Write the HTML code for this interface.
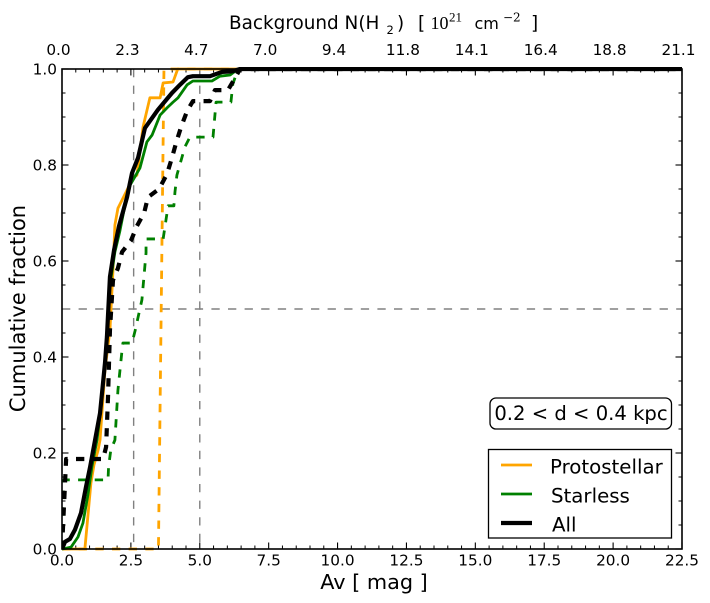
<!DOCTYPE html>
<html lang="en">
<head>
<meta charset="utf-8">
<title>Cumulative fraction vs Av</title>
<style>
html,body{margin:0;padding:0;background:#fff;width:710px;height:603px;overflow:hidden}
svg{display:block}
text{font-family:"DejaVu Sans","Liberation Sans",sans-serif;fill:#000}
</style>
</head>
<body>
<svg id="chart" width="710" height="603" viewBox="0 0 710 603" xmlns="http://www.w3.org/2000/svg">
  <defs><clipPath id="plot-clip"><rect x="62" y="67" width="620" height="484"/></clipPath></defs>
  <rect x="0" y="0" width="710" height="603" fill="#fff"/>
  <g id="ticks"></g>
  <g id="refs" clip-path="url(#plot-clip)"></g>
  <g id="series" clip-path="url(#plot-clip)"></g>
  <rect x="62" y="69" width="620" height="480" fill="none" stroke="#000" stroke-width="1.6"/>
  <g id="labels"></g>
  <text y="29" font-size="18.4"><tspan x="229">Background N(H</tspan><tspan x="386.5" y="34" font-size="11.5">2</tspan><tspan x="397" y="29">)</tspan><tspan x="418" y="29">[</tspan><tspan x="430.5" y="29" font-size="18" style="font-family:'Liberation Serif',serif">10</tspan><tspan x="449" y="21.5" font-size="13" style="font-family:'Liberation Serif',serif">21</tspan><tspan x="474.5" y="29" font-size="16">cm</tspan><tspan x="503" y="21.5" font-size="12" style="font-family:'DejaVu Serif','Liberation Serif',serif">−2</tspan><tspan x="531" y="29">]</tspan></text>
  <text x="374" y="589" font-size="20.8" text-anchor="middle">Av [ mag ]</text>
  <text x="0" y="0" font-size="21" text-anchor="middle" transform="translate(25,308.5) rotate(-90)">Cumulative fraction</text>
  <g>
    <rect x="490" y="398" width="181.5" height="31" rx="6" ry="6" fill="#fff" stroke="#000" stroke-width="1.3"/>
    <text x="581" y="420" font-size="19.6" text-anchor="middle">0.2 &lt; d &lt; 0.4 kpc</text>
  </g>
  <g>
    <rect x="488.5" y="449.5" width="183" height="88.5" fill="#fff" stroke="#000" stroke-width="1.3"/>
    <line x1="501" x2="532" y1="465" y2="465" stroke="#ffa500" stroke-width="2.8"/>
    <text x="550" y="473.5" font-size="19.8">Protostellar</text>
    <line x1="501" x2="532" y1="494" y2="494" stroke="#008000" stroke-width="2.8"/>
    <text x="551" y="502.5" font-size="19.8">Starless</text>
    <line x1="501" x2="532" y1="523" y2="523" stroke="#000" stroke-width="4.2"/>
    <text x="552" y="531.5" font-size="19.8">All</text>
  </g>
</svg>
<script>
var xTicks = [0, 2.5, 5, 7.5, 10, 12.5, 15, 17.5, 20, 22.5];
var xTickLabels = ["0.0", "2.5", "5.0", "7.5", "10.0", "12.5", "15.0", "17.5", "20.0", "22.5"];
var topTickLabels = ["0.0", "2.3", "4.7", "7.0", "9.4", "11.8", "14.1", "16.4", "18.8", "21.1"];
var yTicks = [0, 0.2, 0.4, 0.6, 0.8, 1.0];
var yTickLabels = ["0.0", "0.2", "0.4", "0.6", "0.8", "1.0"];
var xMinorValues = [0.5, 1, 1.5, 2, 3, 3.5, 4, 4.5, 5.5, 6, 6.5, 7, 8, 8.5, 9, 9.5, 10.5, 11, 11.5, 12, 13, 13.5, 14, 14.5, 15.5, 16, 16.5, 17, 18, 18.5, 19, 19.5, 20.5, 21, 21.5, 22];
var yMinorValues = [0.05, 0.1, 0.15, 0.25, 0.3, 0.35, 0.45, 0.5, 0.55, 0.65, 0.7, 0.75, 0.85, 0.9, 0.95];
var refVerticals = [2.6, 5.0];
var refHorizontals = [0.5];

var protoSolidAv = [0, 0.83, 1.05, 1.16, 1.31, 1.38, 1.56, 1.74, 1.85, 1.92, 2.03, 2.58, 2.72, 2.94, 3.19, 3.56, 3.67, 4.03, 4.2, 22.5];
var protoSolidFrac = [0, 0, 0.1375, 0.175, 0.206, 0.227, 0.373, 0.456, 0.581, 0.675, 0.71, 0.773, 0.779, 0.879, 0.94, 0.94, 0.971, 0.973, 1, 1];
var protoDashAv = [0, 3.5, 3.7, 22.5];
var protoDashFrac = [0, 0, 1, 1];

var starSolidAv = [0, 0.11, 0.33, 0.58, 0.76, 0.94, 1.09, 1.27, 1.38, 1.56, 1.74, 1.92, 2.1, 2.25, 2.47, 2.83, 3.08, 3.27, 3.56, 3.81, 4.03, 4.21, 4.54, 4.75, 5.44, 5.73, 6.1, 6.39, 22.5];
var starSolidFrac = [0, 0.001, 0.004, 0.025, 0.054, 0.1125, 0.173, 0.227, 0.279, 0.379, 0.55, 0.619, 0.6625, 0.706, 0.758, 0.794, 0.848, 0.8625, 0.904, 0.919, 0.931, 0.94, 0.967, 0.975, 0.975, 0.985, 0.9875, 1, 1];
var starDashAv = [0, 0.07, 1.67, 1.69, 1.77, 1.92, 2.03, 2.18, 2.21, 2.54, 2.65, 2.9, 3.05, 3.05, 3.67, 3.85, 4.06, 4.1, 4.17, 4.46, 4.64, 5.48, 5.59, 6.13, 6.2, 6.39, 22.5];
var starDashFrac = [0, 0.144, 0.144, 0.171, 0.206, 0.227, 0.331, 0.415, 0.429, 0.429, 0.454, 0.519, 0.617, 0.646, 0.646, 0.715, 0.715, 0.744, 0.779, 0.8375, 0.858, 0.858, 0.931, 0.931, 0.969, 1, 1];

var allSolidAv = [0, 0.11, 0.29, 0.47, 0.69, 0.87, 1.02, 1.2, 1.38, 1.56, 1.63, 1.74, 1.89, 2.07, 2.36, 2.54, 2.76, 3.01, 3.48, 3.99, 4.28, 4.57, 4.75, 5.37, 5.81, 6.17, 6.46, 22.5];
var allSolidFrac = [0, 0.015, 0.021, 0.04, 0.075, 0.129, 0.171, 0.227, 0.283, 0.3875, 0.442, 0.567, 0.623, 0.673, 0.733, 0.783, 0.815, 0.877, 0.915, 0.95, 0.967, 0.983, 0.985, 0.985, 0.994, 0.995, 1, 1];
var allDashAv = [0, 0.15, 1.49, 1.6, 1.67, 1.74, 1.85, 2.03, 2.18, 2.5, 2.72, 2.98, 3.12, 3.52, 3.81, 3.99, 4.14, 4.32, 4.54, 4.75, 5.37, 5.55, 6.02, 6.28, 6.46, 22.5];
var allDashFrac = [0, 0.1875, 0.1875, 0.2125, 0.317, 0.456, 0.56, 0.585, 0.619, 0.642, 0.673, 0.7, 0.733, 0.75, 0.781, 0.815, 0.846, 0.879, 0.9125, 0.933, 0.933, 0.956, 0.956, 0.981, 1, 1];

var SVG_NS = "http://www.w3.org/2000/svg";
function xScale(v) { return 62 + (v / 22.5) * 620; }
function yScale(v) { return 549 - v * 480; }

function makeLine(parent, x1, y1, x2, y2, stroke, width, dash) {
  var el = document.createElementNS(SVG_NS, "line");
  el.setAttribute("x1", x1);
  el.setAttribute("y1", y1);
  el.setAttribute("x2", x2);
  el.setAttribute("y2", y2);
  el.setAttribute("stroke", stroke);
  el.setAttribute("stroke-width", width);
  if (dash) el.setAttribute("stroke-dasharray", dash);
  parent.appendChild(el);
  return el;
}

function makeLabel(parent, x, y, anchor, str) {
  var el = document.createElementNS(SVG_NS, "text");
  el.setAttribute("x", x);
  el.setAttribute("y", y);
  el.setAttribute("text-anchor", anchor);
  el.setAttribute("font-size", "15.3");
  el.textContent = str;
  parent.appendChild(el);
  return el;
}

function makeSeries(parent, xs, ys, color, width, dash, name) {
  var pts = xs.map(function (v, i) { return xScale(v).toFixed(2) + "," + yScale(ys[i]).toFixed(2); }).join(" ");
  var el = document.createElementNS(SVG_NS, "polyline");
  el.setAttribute("points", pts);
  el.setAttribute("fill", "none");
  el.setAttribute("stroke", color);
  el.setAttribute("stroke-width", width);
  el.setAttribute("stroke-linejoin", "round");
  if (dash) el.setAttribute("stroke-dasharray", dash);
  
  
  parent.appendChild(el);
}

var tickGroup = document.getElementById("ticks");
var labelGroup = document.getElementById("labels");
var refGroup = document.getElementById("refs");
var seriesGroup = document.getElementById("series");

xTicks.forEach(function (v, i) {
  var px = xScale(v);
  var b = makeLine(tickGroup, px, 549, px, 542.5, "#000", 1.1);
  
  
  var t = makeLine(tickGroup, px, 69, px, 75.5, "#000", 1.1);
  
  
  var lb = makeLabel(labelGroup, px, 565.5, "middle", xTickLabels[i]);
  
  
  var lt = makeLabel(labelGroup, px - 3.5, 55, "middle", topTickLabels[i]);
  
  
});
xMinorValues.forEach(function (v) {
  var px = xScale(v);
  var b = makeLine(tickGroup, px, 549, px, 545.5, "#000", 1);
  
  
  var t = makeLine(tickGroup, px, 69, px, 72.5, "#000", 1);
  
  
});
yTicks.forEach(function (v, i) {
  var py = yScale(v);
  var l = makeLine(tickGroup, 62, py, 68.5, py, "#000", 1.1);
  
  
  var r = makeLine(tickGroup, 682, py, 675.5, py, "#000", 1.1);
  
  
  var lab = makeLabel(labelGroup, 57, py + 5.7, "end", yTickLabels[i]);
  
  
});
yMinorValues.forEach(function (v) {
  var py = yScale(v);
  var l = makeLine(tickGroup, 62, py, 65.5, py, "#000", 1);
  
  
  var r = makeLine(tickGroup, 682, py, 678.5, py, "#000", 1);
  
  
});

refVerticals.forEach(function (v) {
  var rv = makeLine(refGroup, xScale(v), 69, xScale(v), 549, "#808080", 1.4, "8.3 8.3");
  
  
});
refHorizontals.forEach(function (v) {
  var rh = makeLine(refGroup, 62, yScale(v), 682, yScale(v), "#808080", 1.4, "8.3 8.3");
  
  
});

makeSeries(seriesGroup, protoDashAv, protoDashFrac, "#ffa500", 2.8, "8.33 8.33", "protostellar-dashed-line");
makeSeries(seriesGroup, protoSolidAv, protoSolidFrac, "#ffa500", 2.8, null, "protostellar-solid-line");
makeSeries(seriesGroup, starDashAv, starDashFrac, "#008000", 2.8, "8.33 8.33", "starless-dashed-line");
makeSeries(seriesGroup, starSolidAv, starSolidFrac, "#008000", 2.8, null, "starless-solid-line");
makeSeries(seriesGroup, allDashAv, allDashFrac, "#000", 4.2, "8.33 8.33", "all-dashed-line");
makeSeries(seriesGroup, allSolidAv, allSolidFrac, "#000", 4.2, null, "all-solid-line");
</script>
</body>
</html>
